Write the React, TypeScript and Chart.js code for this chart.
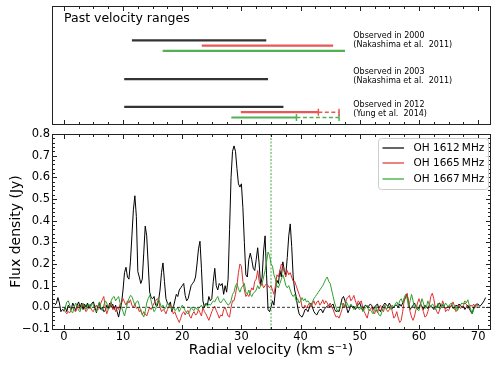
import React, { useEffect, useRef } from "react";
import { Chart, registerables } from "chart.js";

Chart.register(...registerables);

const FONT_FAMILY = "'DejaVu Sans', 'Noto Sans', sans-serif";

// ---------- shared velocity axis ----------
const X_MIN = -2;
const X_MAX = 72;
const X_TICKS = [0, 10, 20, 30, 40, 50, 60, 70];
const X_MINOR_STEP = 2.5;

// ---------- flux axis ----------
const Y_MIN = -0.1;
const Y_MAX = 0.8;
const Y_TICKS = [-0.1, 0.0, 0.1, 0.2, 0.3, 0.4, 0.5, 0.6, 0.7, 0.8];
const Y_MINOR_STEP = 0.02;

// ---------- top panel: past velocity ranges (km/s) ----------
const PANEL_TITLE = "Past velocity ranges";
const EPOCHS = ["Observed in 2000", "Observed in 2003", "Observed in 2012"];
const EPOCH_REFS = ["(Nakashima et al.  2011)", "(Nakashima et al.  2011)", "(Yung et al.  2014)"];
const RANGE_1612: (number[] | null)[] = [[11.5, 34.2], [10.2, 34.5], [10.2, 37.1]];
const RANGE_1665: (number[] | null)[] = [[23.3, 45.5], null, [29.9, 43.0]];
const RANGE_1667: (number[] | null)[] = [[16.7, 47.5], null, [28.3, 39.3]];
const EXTENSION_1665: (number[] | null)[] = [null, null, [43.0, 46.5]];
const EXTENSION_1667: (number[] | null)[] = [null, null, [39.3, 46.5]];

// ---------- spectra ----------
const LINE_LABELS = ["OH 1612\u2009MHz", "OH 1665\u2009MHz", "OH 1667\u2009MHz"];
const CHANNEL_WIDTH = 0.25;
const START_1612 = -1.5;
const START_1665 = 0;
const START_1667 = 0;
const SYSTEMIC_VELOCITY = 35;

const FLUX_1612 = [
  0.01, 0.02, 0.045, 0.02, -0.02, -0.01,
  -0.015, 0.0, -0.02, 0.01, 0.0, -0.01, 0.02, 0.005, -0.015, 0.01, 0.025, 0.0, 0.02, -0.01, 0.015, 0.0, 0.02, -0.005, 0.01, 0.02,
  0.025, 0.0, -0.025, 0.005, 0.02, -0.01, 0.0, -0.02, -0.015, 0.01, -0.005, 0.02, 0.0, 0.015, -0.01, 0.01, -0.02, -0.045, -0.01, 0.02,
  0.08, 0.16, 0.185, 0.14, 0.13, 0.21, 0.33, 0.45, 0.515, 0.42, 0.165, 0.14, 0.11, 0.13, 0.25, 0.375, 0.33, 0.2, 0.07, 0.045,
  0.04, 0.05, 0.01, 0.005, 0.03, 0.08, 0.16, 0.205, 0.12, 0.04, 0.02, 0.01, 0.025, -0.02, 0.0, 0.03, 0.06, 0.05, 0.08, 0.09,
  0.1, 0.11, 0.055, 0.03, 0.04, 0.07, 0.1, 0.11, 0.12, 0.14, 0.2, 0.27, 0.305, 0.18, 0.03, 0.0, 0.02, 0.01, 0.05, 0.03,
  0.04, 0.12, 0.18, 0.1, 0.08, 0.11, 0.1, 0.11, 0.06, 0.1, 0.07, 0.13, 0.36, 0.6, 0.72, 0.745, 0.72, 0.64, 0.57, 0.555,
  0.57, 0.46, 0.3, 0.15, 0.14, 0.22, 0.25, 0.22, 0.18, 0.17, 0.22, 0.275, 0.2, 0.1, 0.14, 0.26, 0.33, 0.15, -0.01, -0.02,
  0.0, 0.03, 0.01, 0.08, 0.125, 0.11, 0.17, 0.14, 0.21, 0.17, 0.15, 0.23, 0.33, 0.385, 0.28, 0.14, 0.08, 0.05, 0.0, -0.03,
  -0.04, -0.045, -0.03, -0.01, -0.01, -0.02, 0.0, 0.02, 0.0, -0.02, -0.03, -0.035, -0.02, -0.01, -0.01, -0.025, -0.01, 0.0, 0.005, 0.01,
  0.0, 0.01, 0.015, -0.01, -0.02, -0.015, -0.02, 0.01, 0.04, 0.05, 0.03, 0.0, -0.025, -0.01, 0.01, 0.0, 0.005, -0.01, 0.0, 0.015,
  0.02, 0.0, -0.015, 0.005, 0.01, 0.0, 0.005, 0.015, 0.01, -0.01, 0.0, 0.01, 0.015, -0.01, -0.02, 0.0, 0.01, 0.02, 0.01, 0.005,
  0.02, 0.005, -0.005, 0.0, 0.01, 0.01, 0.0, 0.015, 0.005, 0.02, 0.03, 0.05, 0.06, 0.02, -0.01, 0.0, 0.01, 0.02, 0.0, -0.01,
  0.0, 0.015, 0.005, -0.01, 0.01, 0.0, -0.005, 0.01, 0.005, 0.0, -0.01, 0.005, 0.0, 0.015, 0.02, 0.0, 0.01, 0.005, -0.005, 0.0,
  0.005, 0.0, 0.01, -0.005, 0.0, 0.01, 0.005, 0.015, 0.01, 0.0, 0.005, -0.01, 0.0, 0.01, -0.005, -0.02, -0.03, 0.0, 0.01, 0.015,
  0.015, 0.005, 0.01, 0.02, 0.03, 0.045,
];

const FLUX_1665 = [
  -0.01, -0.02, -0.03, -0.02, -0.025, -0.01, 0.0, -0.015, -0.02, 0.005, 0.01, -0.01, 0.0, 0.015, -0.005, -0.02, -0.01, 0.005, 0.0, -0.015,
  -0.02, 0.0, 0.01, -0.01, -0.005, 0.02, 0.035, 0.05, 0.0, -0.03, -0.01, 0.01, 0.025, -0.01, 0.005, -0.02, 0.0, -0.01, 0.015, 0.02,
  0.04, 0.025, 0.01, 0.03, 0.02, 0.035, 0.01, 0.0, 0.015, -0.005, 0.0, -0.02, -0.01, -0.035, -0.02, -0.03, -0.04, -0.02, 0.0, -0.01,
  0.005, 0.02, 0.03, 0.04, 0.035, 0.0, -0.02, -0.01, -0.015, -0.03, -0.01, 0.005, 0.01, -0.01, -0.03, -0.02, -0.04, -0.055, -0.07, -0.05,
  -0.03, -0.02, -0.035, -0.02, -0.015, -0.04, -0.05, -0.03, -0.02, -0.035, -0.03, -0.01, -0.025, -0.04, 0.0, -0.02, -0.03, -0.045, -0.06, -0.04,
  -0.02, -0.005, 0.005, -0.015, -0.03, -0.05, -0.035, -0.04, -0.01, 0.0, -0.02, -0.04, -0.045, 0.0, 0.03, 0.03, 0.06, 0.1, 0.16, 0.2,
  0.19, 0.12, 0.08, 0.05, 0.06, 0.05, 0.07, 0.09, 0.08, 0.12, 0.13, 0.17, 0.12, 0.1, 0.11, 0.09, 0.1, 0.11, 0.1, 0.09,
  0.1, 0.08, 0.06, 0.1, 0.15, 0.14, 0.17, 0.2, 0.19, 0.16, 0.14, 0.17, 0.15, 0.16, 0.14, 0.12, 0.12, 0.1, 0.08, 0.06,
  0.04, 0.0, -0.005, 0.01, -0.005, 0.01, 0.02, 0.0, 0.015, 0.03, 0.01, 0.025, 0.03, 0.01, 0.02, 0.035, 0.015, 0.03, 0.02, 0.005,
  0.02, 0.0, -0.01, -0.03, -0.045, -0.04, -0.05, -0.03, -0.01, 0.02, 0.0, 0.04, 0.045, 0.055, 0.03, 0.04, 0.055, 0.03, 0.01, 0.03,
  0.02, 0.03, 0.0, -0.02, -0.035, -0.05, -0.02, -0.01, 0.0, -0.02, -0.03, -0.01, -0.025, 0.0, 0.01, -0.01, -0.02, 0.005, -0.01, -0.02,
  -0.01, 0.01, -0.02, -0.05, -0.04, -0.02, -0.05, -0.07, -0.06, -0.02, 0.03, 0.05, 0.065, 0.02, -0.02, -0.045, -0.06, -0.04, -0.01, 0.02,
  0.04, 0.02, 0.0, -0.02, -0.045, -0.04, -0.02, 0.01, 0.05, 0.065, 0.04, 0.0, -0.02, -0.03, -0.01, 0.0, 0.03, 0.01, -0.02, -0.01,
  -0.015, 0.0, 0.01, 0.025, 0.005, -0.02, -0.01, 0.01, -0.005, 0.0, 0.01, 0.02, 0.015, -0.005, 0.0, 0.01, 0.005, 0.015, 0.0, 0.01,
  0.005,
];

const FLUX_1667 = [
  -0.02, 0.0, 0.025, 0.03, 0.01, -0.02, -0.025, 0.0, 0.02, 0.005, -0.015, -0.02, 0.01, 0.02, 0.0, -0.01, 0.01, 0.015, -0.005, 0.02,
  0.01, -0.01, -0.02, 0.005, 0.025, 0.0, -0.015, 0.01, 0.03, 0.02, -0.01, 0.0, 0.03, 0.045, 0.05, 0.03, 0.04, 0.05, 0.02, 0.0,
  -0.02, -0.04, -0.01, 0.02, 0.04, 0.055, 0.05, 0.03, 0.01, 0.025, 0.03, 0.01, -0.02, -0.03, -0.045, -0.02, 0.02, 0.04, 0.055, 0.03,
  0.0, -0.02, -0.01, 0.02, 0.04, 0.02, 0.0, 0.01, -0.01, 0.0, 0.02, 0.01, 0.0, -0.01, 0.005, -0.015, -0.01, 0.0, -0.02, -0.005,
  0.01, 0.0, -0.015, -0.025, -0.03, -0.02, 0.0, -0.01, -0.015, 0.0, -0.01, -0.005, 0.0, 0.01, -0.005, 0.01, 0.02, 0.005, 0.015, 0.01,
  0.02, 0.03, 0.025, 0.04, 0.05, 0.03, 0.02, 0.03, 0.04, 0.03, 0.02, 0.01, 0.015, 0.03, 0.06, 0.07, 0.1, 0.11, 0.085, 0.07,
  0.09, 0.1, 0.11, 0.07, 0.06, 0.08, 0.06, 0.05, 0.065, 0.07, 0.08, 0.1, 0.085, 0.1, 0.11, 0.14, 0.17, 0.21, 0.255, 0.24,
  0.2, 0.19, 0.15, 0.13, 0.1, 0.09, 0.11, 0.13, 0.15, 0.13, 0.1, 0.09, 0.1, 0.08, 0.06, 0.05, 0.06, 0.03, 0.04, 0.02,
  0.03, 0.045, 0.03, 0.04, 0.025, 0.03, 0.02, 0.01, 0.025, 0.04, 0.05, 0.06, 0.07, 0.08, 0.09, 0.1, 0.115, 0.13, 0.14, 0.12,
  0.11, 0.08, 0.05, 0.02, 0.0, -0.02, -0.01, 0.01, 0.02, 0.0, 0.01, 0.025, 0.01, 0.0, 0.015, 0.005, -0.01, 0.0, 0.01, -0.005,
  -0.01, 0.005, -0.02, -0.01, 0.0, 0.01, -0.015, -0.01, -0.02, -0.03, -0.01, 0.005, -0.02, -0.035, -0.04, -0.02, 0.0, 0.01, -0.01, 0.0,
  0.005, -0.01, 0.01, 0.0, 0.015, 0.025, 0.01, 0.03, 0.04, 0.02, 0.045, 0.06, 0.04, 0.0, 0.03, 0.06, 0.03, -0.005, 0.01, -0.01,
  -0.015, 0.01, 0.04, 0.02, -0.005, 0.0, 0.03, 0.01, 0.0, 0.015, 0.01, -0.01, 0.005, 0.02, -0.01, 0.0, 0.015, 0.005, 0.02, 0.01,
  0.0, 0.015, 0.02, 0.0, -0.01, 0.005, -0.015, 0.0, 0.01, 0.02, 0.015, 0.03, 0.02, 0.035, 0.01, -0.01, -0.03, -0.01, 0.005, 0.0,
  0.0,
];

// ---------- styles / layout (not data) ----------
const SPEC_COLORS = ["#000000", "#e02f2f", "#2ca02c"];
const RANGE_COLORS = ["#333333", "#e85858", "#52b152"];
const FRAME_COLOR = "#222222";
const TOP_LANE_BASE = [34.3, 73.2, 100.9];
const LANE_OFFSET = [0, 5.3, 10.6];
const TEXT_X = 48.9;
const TEXT_Y = [[29.5, 39], [65.7, 75.2], [98.8, 108.3]];

const toPoints = (start: number, flux: number[]) =>
  flux.map((y, i) => ({ x: start + i * CHANNEL_WIDTH, y }));

function isMajor(v: number, step: number) {
  const r = v / step;
  return Math.abs(r - Math.round(r)) < 1e-6;
}

function makeFramePlugin(sides: { left: boolean; right: boolean; top: boolean; bottom: boolean }, yTicks: boolean) {
  return {
    id: "frameTicks",
    afterDatasetsDraw(chart: any) {
      const { ctx, chartArea: a, scales } = chart;
      const xs = scales.x;
      const ys = scales.y;
      const L = Math.round(a.left) + 0.5;
      const R = Math.round(a.right) + 0.5;
      const T = Math.round(a.top) + 0.5;
      const B = Math.round(a.bottom) + 0.5;
      ctx.save();
      ctx.strokeStyle = FRAME_COLOR;
      ctx.lineWidth = 1;
      ctx.strokeRect(L, T, R - L, B - T);
      const seg = (x1: number, y1: number, x2: number, y2: number) => {
        ctx.beginPath();
        ctx.moveTo(x1, y1);
        ctx.lineTo(x2, y2);
        ctx.stroke();
      };
      const start = Math.ceil(X_MIN / X_MINOR_STEP) * X_MINOR_STEP;
      for (let v = start; v <= X_MAX + 1e-9; v += X_MINOR_STEP) {
        const len = isMajor(v, 10) ? 4.5 : 2.5;
        const px = Math.round(xs.getPixelForValue(v)) + 0.5;
        if (sides.bottom) seg(px, B, px, B - len);
        if (sides.top) seg(px, T, px, T + len);
      }
      if (yTicks) {
        const n = Math.round((Y_MAX - Y_MIN) / Y_MINOR_STEP);
        for (let i = 0; i <= n; i++) {
          const v = Y_MIN + i * Y_MINOR_STEP;
          const len = isMajor(v, 0.1) ? 4.5 : 2.5;
          const py = Math.round(ys.getPixelForValue(v)) + 0.5;
          if (sides.left) seg(L, py, L + len, py);
          if (sides.right) seg(R, py, R - len, py);
        }
      }
      ctx.restore();
    },
  };
}

const topTextPlugin = {
  id: "topText",
  afterDraw(chart: any) {
    const { ctx, chartArea: a, scales } = chart;
    ctx.save();
    ctx.fillStyle = "#000";
    ctx.textBaseline = "alphabetic";
    ctx.textAlign = "left";
    ctx.font = `12.5px ${FONT_FAMILY}`;
    ctx.fillText(PANEL_TITLE, a.left + 12, a.top + 16);
    ctx.font = `8px ${FONT_FAMILY}`;
    ctx.textBaseline = "middle";
    const tx = scales.x.getPixelForValue(TEXT_X);
    EPOCHS.forEach((label, e) => {
      ctx.fillText(label, tx, scales.y.getPixelForValue(TEXT_Y[e][0]));
      ctx.fillText(EPOCH_REFS[e], tx, scales.y.getPixelForValue(TEXT_Y[e][1]));
    });
    ctx.restore();
  },
};

const legendPlugin = {
  id: "legendBox",
  afterDraw(chart: any) {
    const { ctx, chartArea: a } = chart;
    const w = 110;
    const h = 51;
    const x0 = Math.round(a.right - 2.5 - w) + 0.5;
    const y0 = Math.round(a.top + 4.3) + 0.5;
    ctx.save();
    ctx.beginPath();
    if (ctx.roundRect) ctx.roundRect(x0, y0, w, h, 3);
    else ctx.rect(x0, y0, w, h);
    ctx.fillStyle = "rgba(255,255,255,0.85)";
    ctx.fill();
    ctx.strokeStyle = "#cccccc";
    ctx.lineWidth = 1;
    ctx.stroke();
    ctx.font = `10.5px ${FONT_FAMILY}`;
    ctx.textBaseline = "middle";
    ctx.textAlign = "left";
    LINE_LABELS.forEach((label, i) => {
      const yy = Math.round(y0 + 9 + i * 15.85);
      ctx.beginPath();
      ctx.strokeStyle = SPEC_COLORS[i];
      ctx.lineWidth = 1.2;
      ctx.moveTo(x0 + 4, yy);
      ctx.lineTo(x0 + 25.5, yy);
      ctx.stroke();
      ctx.fillStyle = "#000";
      ctx.fillText(label, x0 + 35, yy);
    });
    ctx.restore();
  },
};

function buildTopDatasets() {
  const ranges = [RANGE_1612, RANGE_1665, RANGE_1667];
  const exts: ((number[] | null)[] | null)[] = [null, EXTENSION_1665, EXTENSION_1667];
  const sets: any[] = [];
  EPOCHS.forEach((_, e) => {
    ranges.forEach((list, k) => {
      const r = list[e];
      if (!r) return;
      const y = TOP_LANE_BASE[e] + LANE_OFFSET[k];
      const ext = exts[k] ? exts[k]![e] : null;
      const common = {
        borderColor: RANGE_COLORS[k],
        backgroundColor: RANGE_COLORS[k],
        pointBorderColor: RANGE_COLORS[k],
        borderWidth: 2.2,
        pointStyle: "line",
        pointRotation: 90,
        pointBorderWidth: 1.5,
        pointHoverRadius: 0,
      };
      sets.push({
        ...common,
        data: [{ x: r[0], y }, { x: r[1], y }],
        pointRadius: ext ? [0, 3.5] : 0,
      });
      if (ext) {
        sets.push({
          ...common,
          borderWidth: 1.5,
          borderDash: [4, 2.5],
          data: [{ x: ext[0], y }, { x: ext[1], y }],
          pointRadius: [0, 3.5],
        });
      }
    });
  });
  return sets;
}

export default function App() {
  const topRef = useRef<HTMLCanvasElement>(null);
  const botRef = useRef<HTMLCanvasElement>(null);

  useEffect(() => {
    Chart.defaults.font.family = FONT_FAMILY;
    Chart.defaults.color = "#000";

    const top = new Chart(topRef.current as HTMLCanvasElement, {
      type: "line",
      data: { datasets: buildTopDatasets() },
      options: {
        responsive: false,
        animation: false,
        devicePixelRatio: 1,
        layout: { padding: { top: 6, bottom: 6, left: 52, right: 8 } },
        plugins: { legend: { display: false }, tooltip: { enabled: false } },
        events: [],
        scales: {
          x: { type: "linear", min: X_MIN, max: X_MAX, display: false },
          y: { type: "linear", min: 0, max: 118, reverse: true, display: false },
        },
      },
      plugins: [makeFramePlugin({ left: false, right: false, top: true, bottom: true }, false), topTextPlugin],
    } as any);

    const bot = new Chart(botRef.current as HTMLCanvasElement, {
      type: "line",
      data: {
        datasets: [
          {
            label: LINE_LABELS[0],
            data: toPoints(START_1612, FLUX_1612),
            borderColor: SPEC_COLORS[0],
            borderWidth: 1,
            pointRadius: 0,
            order: 4,
          },
          {
            label: LINE_LABELS[1],
            data: toPoints(START_1665, FLUX_1665),
            borderColor: SPEC_COLORS[1],
            borderWidth: 1,
            pointRadius: 0,
            order: 3,
          },
          {
            label: LINE_LABELS[2],
            data: toPoints(START_1667, FLUX_1667),
            borderColor: SPEC_COLORS[2],
            borderWidth: 1,
            pointRadius: 0,
            order: 2,
          },
          {
            label: "zero",
            data: [{ x: X_MIN, y: 0 }, { x: X_MAX, y: 0 }],
            borderColor: "#000",
            borderWidth: 0.8,
            borderDash: [3, 2],
            pointRadius: 0,
            order: 1,
          },
          {
            label: "systemic",
            data: [{ x: SYSTEMIC_VELOCITY, y: Y_MIN }, { x: SYSTEMIC_VELOCITY, y: Y_MAX }],
            borderColor: SPEC_COLORS[2],
            borderWidth: 0.9,
            borderDash: [2, 1.5],
            pointRadius: 0,
            order: 0,
          },
        ],
      },
      options: {
        responsive: false,
        animation: false,
        devicePixelRatio: 1,
        layout: { padding: { top: 14, bottom: 0, left: 0, right: 8 } },
        plugins: { legend: { display: false }, tooltip: { enabled: false } },
        events: [],
        scales: {
          x: {
            type: "linear",
            min: X_MIN,
            max: X_MAX,
            grid: { display: false, drawTicks: false },
            border: { display: false },
            afterBuildTicks: (s: any) => {
              s.ticks = X_TICKS.map((v) => ({ value: v }));
            },
            afterFit: (s: any) => {
              s.height = 45;
            },
            ticks: {
              font: { size: 11.5 },
              color: "#000",
              padding: 1,
              maxRotation: 0,
              autoSkip: false,
              callback: (v: any) => String(v),
            },
            title: {
              display: true,
              text: "Radial velocity (km s\u207B\u00B9)",
              font: { size: 14 },
              color: "#000",
              padding: { top: 0, bottom: 15 },
            },
          },
          y: {
            type: "linear",
            min: Y_MIN,
            max: Y_MAX,
            grid: { display: false, drawTicks: false },
            border: { display: false },
            afterBuildTicks: (s: any) => {
              s.ticks = Y_TICKS.map((v) => ({ value: v }));
            },
            afterFit: (s: any) => {
              s.width = 52;
            },
            ticks: {
              font: { size: 11.5 },
              color: "#000",
              padding: 2,
              autoSkip: false,
              callback: (v: any) => {
                const n = Number(v);
                return (n < -1e-9 ? "\u2212" : "") + Math.abs(n).toFixed(1);
              },
            },
            title: {
              display: true,
              text: "Flux density (Jy)",
              font: { size: 14 },
              color: "#000",
              padding: { top: 8, bottom: 0 },
            },
          },
        },
      },
      plugins: [makeFramePlugin({ left: true, right: true, top: true, bottom: true }, true), legendPlugin],
    } as any);

    return () => {
      top.destroy();
      bot.destroy();
    };
  }, []);

  return (
    <div style={{ position: "absolute", left: 0, top: 0, width: 498, height: 374, background: "#fff" }}>
      <canvas
        ref={topRef}
        width={498}
        height={130}
        style={{ position: "absolute", left: 0, top: 0, width: 498, height: 130 }}
      />
      <canvas
        ref={botRef}
        width={498}
        height={254}
        style={{ position: "absolute", left: 0, top: 120, width: 498, height: 254 }}
      />
    </div>
  );
}
